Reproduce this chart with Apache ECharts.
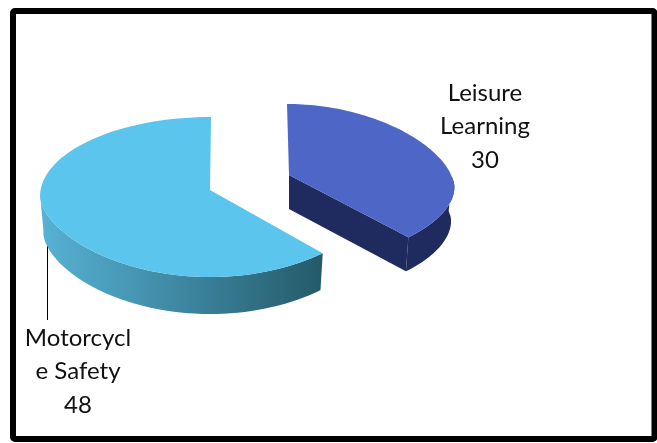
<!DOCTYPE html>
<html lang="en">

<head>
    <meta charset="UTF-8">
    <title>3D exploded pie</title>
    <script src="https://cdn.jsdelivr.net/npm/echarts@6/dist/echarts.min.js"></script>
    <style>
        body {
            margin: 0;
            background-color: #fff;
        }

        #root {
            width: 657px;
            height: 443px;
        }
    </style>
</head>

<body>

    <div id="root"></div>
    <script>

        var categories = ['Leisure Learning', 'Motorcycle Safety'];
        var labelLines = [['Leisure', 'Learning'], ['Motorcycl', 'e Safety']];
        var values = [30, 48];

        // how each slice sits in the picture
        var sliceStyles = [
            {
                cx: 289, cy: 175, a: 164, bUp: 76, bLow: 81, bow: 5, flare: 0.13, lean: -2, depth: 34,
                top: '#4e67c6', side: '#1f2a5e', face: '#1f2a5e',
                labelX: 485, labelY: 93
            },
            {
                cx: 210, cy: 190, a: 170, bUp: 79, bLow: 81, bow: 6, flare: 0, lean: 1, depth: 37,
                top: '#5bc5ed',
                side: new echarts.graphic.LinearGradient(0, 0, 1, 0, [
                    { offset: 0, color: '#57b2d3' },
                    { offset: 0.4, color: '#4390ad' },
                    { offset: 1, color: '#245a69' }
                ]),
                face: '#245a69',
                labelX: 78, labelY: 338
            }
        ];

        var total = values.reduce(function (s, v) { return s + v; }, 0);

        // tilted disc: angle is clockwise from 12 o'clock, near half drawn a bit bigger
        function rimPoint(st, angle) {
            var c = Math.cos(angle), s = Math.sin(angle);
            var dy = c > 0 ? -st.bUp * c : st.bLow * (0.5 * -c + 0.5 * Math.pow(-c, 1.4));
            return [
                st.cx + st.a * s * (1 - st.flare * c) + st.lean * Math.max(c, 0),
                st.cy + st.bow + dy
            ];
        }

        function lower(st, p) {
            return [st.cx + (p[0] - st.cx) * 0.98, p[1] + st.depth];
        }

        function renderSlice(params, api) {
            var i = params.dataIndex;
            var st = sliceStyles[i];
            var before = 0;
            for (var k = 0; k < i; k++) before += values[k];
            var from = before / total * Math.PI * 2;
            var to = (before + api.value(1)) / total * Math.PI * 2;

            var rim = [], steps = 90;
            for (var n = 0; n <= steps; n++) {
                rim.push(rimPoint(st, from + (to - from) * n / steps));
            }

            var children = [];

            // outer wall, only the part facing us (lower half of the disc)
            var wallTop = rim.filter(function (p, idx) {
                var ang = from + (to - from) * idx / steps;
                return Math.cos(ang) < 0.05;
            });
            var wall = wallTop.concat(wallTop.map(function (p) { return lower(st, p); }).reverse());
            children.push({ type: 'polygon', shape: { points: wall }, style: { fill: st.side } });

            // cut face from the centre to the rim end, seen only on the first slice
            if (i === 0) {
                var end = rim[rim.length - 1], apex = [st.cx, st.cy];
                children.push({
                    type: 'polygon',
                    shape: { points: [apex, end, lower(st, end), lower(st, apex)] },
                    style: { fill: st.face }
                });
            }

            children.push({
                type: 'polygon',
                shape: { points: [[st.cx, st.cy]].concat(rim) },
                style: { fill: st.top }
            });

            // stacked label: name lines then the value
            var lines = labelLines[i].concat(String(api.value(1)));
            lines.forEach(function (line, idx) {
                children.push({
                    type: 'text',
                    style: {
                        text: line,
                        x: st.labelX,
                        y: st.labelY + idx * 33.5,
                        align: 'center',
                        verticalAlign: 'middle',
                        fill: '#111',
                        font: '24px Lato, sans-serif'
                    }
                });
            });

            return { type: 'group', children: children };
        }

        var mychart = echarts.init(document.getElementById('root'), null, { renderer: 'canvas' });

        mychart.setOption({
            animation: false,
            backgroundColor: '#fff',
            graphic: [
                {
                    type: 'rect',
                    shape: { x: 13, y: 11, width: 641.5, height: 428, r: 2 },
                    style: { fill: 'transparent', stroke: '#000', lineWidth: 6 }
                },
                {
                    type: 'line',
                    shape: { x1: 47.5, y1: 240, x2: 47.5, y2: 320 },
                    style: { stroke: '#000', lineWidth: 1 }
                }
            ],
            series: [{
                type: 'custom',
                coordinateSystem: 'none',
                renderItem: renderSlice,
                data: categories.map(function (name, i) {
                    return { name: name, value: [i, values[i]] };
                })
            }]
        });

    </script>

</body>

</html>
